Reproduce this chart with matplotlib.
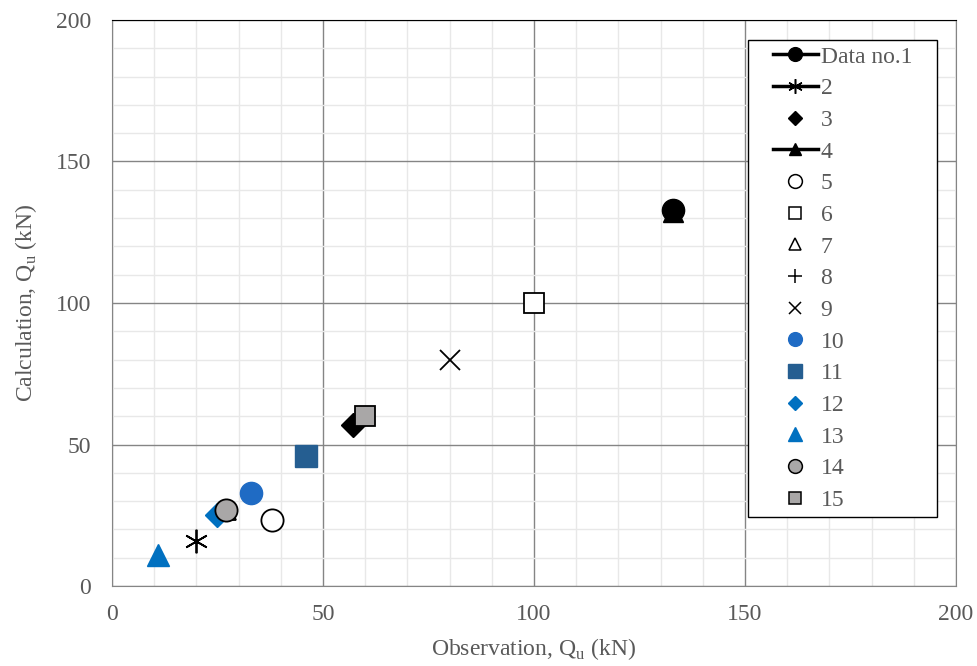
import matplotlib.pyplot as plt
from matplotlib.lines import Line2D
from matplotlib.patches import Rectangle

plt.rcParams['font.family'] = ['Liberation Serif', 'DejaVu Serif']

# series data (observation, calculation)
labels = ['Data no.1', '2', '3', '4', '5', '6', '7', '8', '9', '10',
          '11', '12', '13', '14', '15']
obs = [[133], [20], [57], [133], [38], [100], [27], [], [80], [33],
       [46], [25], [11], [27], [60]]
calc = [[133], [16], [57], [132], [23.5], [100], [27], [], [80], [33],
        [46], [25], [11], [27], [60]]

blue = '#0070C0'
grey = '#A9A7A7'
styles = [
    dict(marker='o', mfc='black', mec='black', ms=16),
    dict(marker=(6, 2, 0), mfc='none', mec='black', ms=17, mew=1.3),
    dict(marker='D', mfc='black', mec='black', ms=12),
    dict(marker='^', mfc='black', mec='black', ms=14),
    dict(marker='o', mfc='white', mec='black', ms=16, mew=1.3),
    dict(marker='s', mfc='white', mec='black', ms=15, mew=1.3),
    dict(marker='^', mfc='white', mec='black', ms=14, mew=1.3),
    dict(marker='+', mfc='none', mec='black', ms=16, mew=1.3),
    dict(marker='x', mfc='none', mec='black', ms=15, mew=1.3),
    dict(marker='o', mfc='#1F6BC4', mec='#1F6BC4', ms=16),
    dict(marker='s', mfc='#255E91', mec='#255E91', ms=16),
    dict(marker='D', mfc=blue, mec=blue, ms=12),
    dict(marker='^', mfc=blue, mec=blue, ms=16),
    dict(marker='o', mfc=grey, mec='black', ms=16, mew=1.3),
    dict(marker='s', mfc=grey, mec='black', ms=15, mew=1.3),
]
with_line = [0, 1, 3]

fig = plt.figure(figsize=(9.78, 6.66), dpi=100)
ax = fig.add_axes([0.1145, 0.1201, 0.863, 0.8499])

draw_order = [3, 0, 1, 2, 4, 5, 7, 8, 6, 9, 10, 11, 12, 13, 14]
for i in draw_order:
    ax.plot(obs[i], calc[i], linestyle='none', zorder=3, **styles[i])

handles = []
for i, lab in enumerate(labels):
    st = dict(styles[i])
    st['ms'] = st['ms'] * 0.62
    if 'mew' in st:
        st['mew'] = 1.1
    ls = '-' if i in with_line else 'none'
    handles.append(Line2D([], [], color='black', lw=2.5, linestyle=ls,
                          label=lab, **st))

# legend frame drawn separately (wide side padding)
ax.add_patch(Rectangle((0.7536, 0.1219), 0.2239, 0.8428, transform=ax.transAxes,
                       facecolor='white', edgecolor='black', lw=1.0, zorder=4))
leg = ax.legend(handles=handles, loc='upper left', bbox_to_anchor=(0.783, 0.954),
                fontsize=17, frameon=False, handlelength=1.9,
                handletextpad=0.12, labelspacing=0.43, borderpad=0,
                borderaxespad=0, labelcolor='#595959')
leg.set_zorder(5)

ax.set_xlim(0, 200)
ax.set_ylim(0, 200)
ax.set_xticks(range(0, 201, 50))
ax.set_yticks(range(0, 201, 50))
ax.set_xticks(range(0, 201, 10), minor=True)
ax.set_yticks(range(0, 201, 10), minor=True)
ax.grid(which='major', color='#858585', lw=1.0, zorder=1)
ax.grid(which='minor', color='#E8E8E8', lw=1.0, zorder=0)
ax.set_axisbelow(True)
ax.tick_params(which='both', length=0, labelsize=17, labelcolor='#595959')
ax.tick_params(axis='x', pad=13)
ax.tick_params(axis='y', pad=15)

for s in ['left', 'bottom', 'right']:
    ax.spines[s].set_color('#858585')
ax.spines['top'].set_color('black')

ax.set_xlabel('Observation, Q$_\\mathregular{u}$ (kN)', fontsize=17, color='#595959', labelpad=8)
ax.set_ylabel('Calculation, Q$_\\mathregular{u}$ (kN)', fontsize=17, color='#595959', labelpad=12)

fig.savefig('out.png', dpi=100)
